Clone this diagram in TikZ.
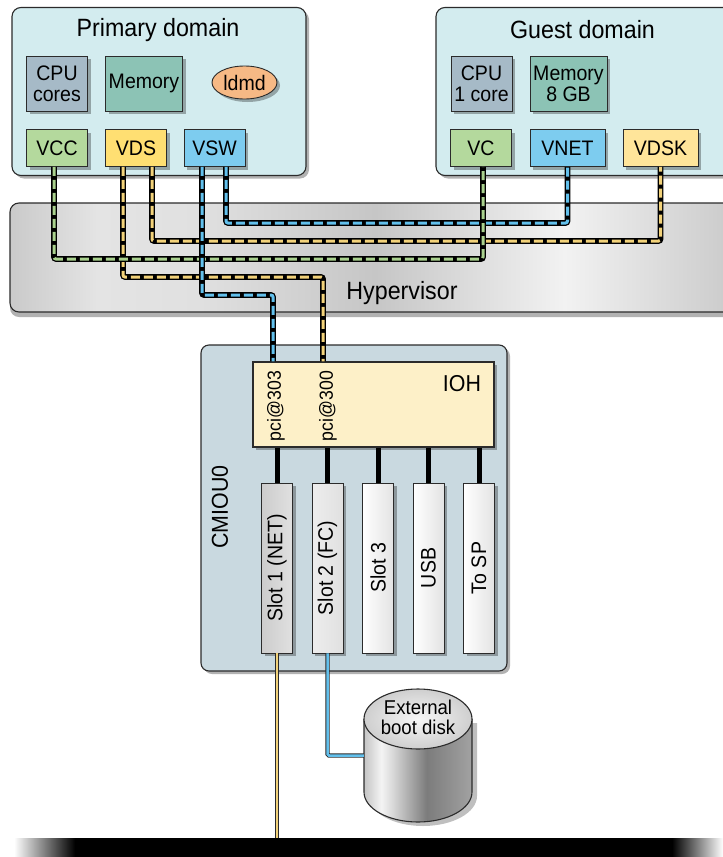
\documentclass[tikz,border=0pt]{standalone}
\usepackage{fontspec}
\setmainfont{Liberation Sans}[FakeStretch=0.93]
\usetikzlibrary{shadows,shapes.geometric}

% fills
\definecolor{domainbg}{HTML}{D3ECEF}
\definecolor{cpufill}{HTML}{A6BAC7}
\definecolor{memfill}{HTML}{8CC3B5}
\definecolor{ldmdfill}{HTML}{F6B985}
\definecolor{vgreen}{HTML}{B4D99D}
\definecolor{vyellow}{HTML}{FFDF72}
\definecolor{vyellowl}{HTML}{FFE59A}
\definecolor{vblue}{HTML}{7DCCEF}
\definecolor{cmioufill}{HTML}{C9D9E0}
\definecolor{iohfill}{HTML}{FDF0C8}
\definecolor{edge}{HTML}{2B2B2B}
% bus colours
\definecolor{lgreen}{HTML}{A9D18E}
\definecolor{lyellow}{HTML}{F2D27A}
\definecolor{lblue}{HTML}{62C0EC}
% hypervisor band
\definecolor{hA}{HTML}{CACACA}
\definecolor{hB}{HTML}{E4E4E4}
\definecolor{hC}{HTML}{E0E0E0}
\definecolor{hD}{HTML}{C6C6C6}
\definecolor{hE}{HTML}{F2F2F2}
\definecolor{hF}{HTML}{C9C9C9}
% disk body
\definecolor{dA}{HTML}{C4C4C4}
\definecolor{dB}{HTML}{F4F4F4}
\definecolor{dC}{HTML}{DADADA}
\definecolor{dD}{HTML}{7C7C7C}
\definecolor{dE}{HTML}{959595}
\definecolor{dF}{HTML}{A2A2A2}

\pgfdeclarehorizontalshading{hyper}{100bp}{color(0bp)=(hA); color(25bp)=(hA); color(31bp)=(hB); color(38bp)=(hC); color(50bp)=(hD); color(63bp)=(hE); color(75bp)=(hF); color(100bp)=(hF)}
\pgfdeclarehorizontalshading{diskbody}{100bp}{color(0bp)=(dA); color(25bp)=(dA); color(33bp)=(dB); color(38bp)=(dC); color(54bp)=(dD); color(68bp)=(dE); color(75bp)=(dF); color(100bp)=(dF)}

\tikzset{
  softshadow/.style={drop shadow={shadow xshift=3pt, shadow yshift=-3pt, fill=black, opacity=0.3}},
  domainbox/.style={draw=edge, line width=1.1pt, fill=domainbg, rounded corners=9pt, softshadow},
  box/.style={draw=edge, line width=0.9pt, inner sep=0pt, align=center,
    font=\fontsize{21}{21}\selectfont, softshadow},
  title/.style={font=\fontsize{25}{28}\selectfont, inner sep=0pt},
  slotbox/.style={draw=edge, line width=0.9pt, minimum width=31pt, minimum height=170pt,
    inner sep=0pt, softshadow},
  slotlabel/.style={rotate=90, font=\fontsize{21}{21}\selectfont, inner sep=0pt},
  bus/.style={preaction={draw=black, line width=5.6pt, solid}, draw=#1, line width=3pt,
    dash pattern=on 9pt off 4pt, rounded corners=2pt},
  wire/.style={preaction={draw=edge, line width=4.4pt}, draw=#1, line width=2.5pt, rounded corners=1.5pt},
  stub/.style={draw=black, line width=5pt},
}

\begin{document}
\begin{tikzpicture}[x=1pt, y=-1pt]
\useasboundingbox (0,0) rectangle (723,857);
\clip (0,0) rectangle (723,857);

% hypervisor band
\node[draw=edge, line width=1.1pt, shade, shading=hyper, rounded corners=9pt,
  minimum width=730pt, minimum height=109pt, inner sep=0pt,
  drop shadow={shadow xshift=0pt, shadow yshift=-5pt, fill=black, opacity=0.3}]
  (hyp) at (375,257.5) {};
\node[title] (hyplabel) at (402,293) {Hypervisor};

% primary domain
\node[domainbox, minimum width=294pt, minimum height=168pt, inner sep=0pt] (primary) at (159,91.5) {};
\node[title] (ptitle) at (158,30) {Primary domain};
\node[box, fill=cpufill, minimum width=61pt, minimum height=55pt] (cpu1) at (57,83.5) {CPU\\cores};
\node[box, fill=memfill, minimum width=77pt, minimum height=55pt] (mem1) at (144,83.5) {Memory};
\node[ellipse, draw=edge, line width=0.9pt, fill=ldmdfill, minimum width=65pt, minimum height=33pt,
  inner sep=0pt, font=\fontsize{21}{21}\selectfont, softshadow] (ldmd) at (244.5,82.5) {ldmd};
\node[box, fill=vgreen, minimum width=61pt, minimum height=37pt] (vcc) at (57,148) {VCC};
\node[box, fill=vyellow, minimum width=61pt, minimum height=37pt] (vds) at (136,148) {VDS};
\node[box, fill=vblue, minimum width=61pt, minimum height=37pt] (vsw) at (214.5,148) {VSW};

% guest domain
\node[domainbox, minimum width=330pt, minimum height=168pt, inner sep=0pt] (guest) at (601,91.5) {};
\node[title] (gtitle) at (582.5,30) {Guest domain};
\node[box, fill=cpufill, minimum width=61pt, minimum height=55pt] (cpu2) at (481.5,83.5) {CPU\\1 core};
\node[box, fill=memfill, minimum width=77pt, minimum height=55pt] (mem2) at (568.5,83.5) {Memory\\8 GB};
\node[box, fill=vgreen, minimum width=61pt, minimum height=37pt] (vc) at (481,148) {VC};
\node[box, fill=vblue, minimum width=75pt, minimum height=37pt] (vnet) at (567.5,148) {VNET};
\node[box, fill=vyellowl, minimum width=75pt, minimum height=37pt] (vdsk) at (660.5,148) {VDSK};

% CMIOU0 board
\node[draw=edge, line width=1.1pt, fill=cmioufill, rounded corners=8pt, minimum width=306pt,
  minimum height=326pt, inner sep=0pt, softshadow] (cmiou) at (354,508) {};
\node[rotate=90, font=\fontsize{23}{23}\selectfont, inner sep=0pt] (cmioulabel) at (220,507) {CMIOU0};
\node[draw=edge, line width=1.1pt, fill=iohfill, minimum width=241pt, minimum height=85pt,
  inner sep=0pt, softshadow] (ioh) at (373.5,404.5) {};
\node[font=\fontsize{23}{23}\selectfont, inner sep=0pt] (iohlabel) at (462,384) {IOH};
\node[rotate=90, font=\fontsize{19}{19}\selectfont, inner sep=0pt] (pci303) at (276,406) {pci@303};
\node[rotate=90, font=\fontsize{19}{19}\selectfont, inner sep=0pt] (pci300) at (328,406) {pci@300};
\coordinate (in303) at ([xshift=-3pt]ioh.north -| pci303);
\coordinate (in300) at ([xshift=-5pt]ioh.north -| pci300);

% expansion slots
\node[slotbox, left color=gray!40, right color=gray!24] (slot1) at (277,568) {};
\node[slotbox, left color=gray!14, right color=gray!24] (slot2) at (327.5,568) {};
\node[slotbox, left color=white, right color=gray!22] (slot3) at (378,568) {};
\node[slotbox, left color=white, right color=gray!22] (usb) at (428.5,568) {};
\node[slotbox, left color=white, right color=gray!22] (tosp) at (479,568) {};
\node[slotlabel] (slot1l) at (slot1) {Slot 1 (NET)};
\node[slotlabel] (slot2l) at (slot2) {Slot 2 (FC)};
\node[slotlabel] (slot3l) at (slot3) {Slot 3};
\node[slotlabel] (usbl) at (usb) {USB};
\node[slotlabel] (tospl) at (tosp) {To SP};
\foreach \s in {slot1,slot2,slot3,usb,tosp}
  \draw[stub] (ioh.south -| \s.north) -- (\s.north);

% external boot disk
\node[minimum width=108pt, minimum height=133pt, inner sep=0pt] (disk) at (418,755.5) {};
\fill[black, opacity=0.25] (369,723) -- (369,796)
  arc[start angle=180, end angle=360, x radius=54pt, y radius=30pt] -- (477,723) -- cycle;
\shade[shading=diskbody] (364,719) -- (364,792)
  arc[start angle=180, end angle=360, x radius=54pt, y radius=30pt] -- (472,719) -- cycle;
\draw[edge, line width=1.1pt] (364,719) -- (364,792)
  arc[start angle=180, end angle=360, x radius=54pt, y radius=30pt] -- (472,719);
\shade[inner color=gray!6, outer color=gray!38]
  (418,719) ellipse[x radius=54pt, y radius=30pt];
\draw[edge, line width=1.1pt] (418,719) ellipse[x radius=54pt, y radius=30pt];
\node[align=center, font=\fontsize{20}{20}\selectfont, inner sep=0pt] (disklabel) at (418,717)
  {External\\boot disk};

% floor bar
\node[fill=black, minimum width=599pt, minimum height=19pt, inner sep=0pt] (floor) at (373.5,847.5) {};
\shade[left color=white, right color=black] (14,838) rectangle (75,857);
\shade[left color=black, right color=white] (672,838) rectangle (723,857);

% virtual links across the hypervisor
\draw[bus=lyellow] ([xshift=-13pt]vds.south) |- (in300 |- 0,277) -- (in300);
\draw[bus=lyellow] ([xshift=16pt]vds.south) |- (vdsk.south |- 0,241) -- (vdsk.south);
\draw[bus=lblue] ([xshift=11.5pt]vsw.south) |- (vnet.south |- 0,223) -- (vnet.south);
\draw[bus=lgreen] ([xshift=-3pt]vcc.south) |- ([xshift=2pt]vc.south |- 0,259) -- ([xshift=2pt]vc.south);
\draw[bus=lblue] ([xshift=-12.5pt]vsw.south) |- (in303 |- 0,295) -- (in303);

% physical cabling
\draw[wire=lyellow] (slot1.south) -- (slot1.south |- floor.north);
\draw[wire=lblue] (slot2.south) |- (disk.west);
\end{tikzpicture}
\end{document}
